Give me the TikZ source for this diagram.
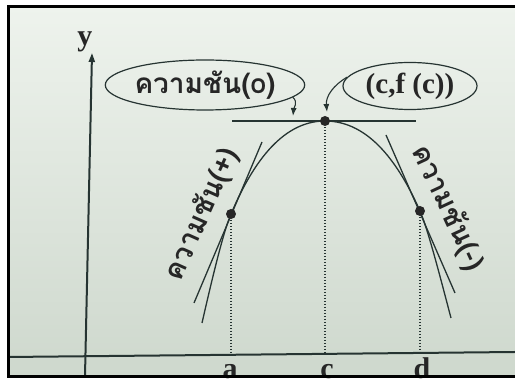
\documentclass[tikz,border=0pt]{standalone}
\usepackage{fontspec}
\setmainfont{Liberation Serif}
\newfontfamily\thaifont[Script=Thai]{Loma}
\usetikzlibrary{arrows.meta,shapes.geometric}
\definecolor{ink}{RGB}{38,52,50}
\definecolor{papertop}{RGB}{238,243,237}
\definecolor{paperbot}{RGB}{206,216,205}
\tikzset{tg/.style={ellipse,draw=ink,line width=1.2pt,inner sep=0pt},
 th/.style={font=\thaifont\bfseries\fontsize{28}{32}\selectfont,inner sep=0pt,text=black!85},
 lbl/.style={font=\bfseries\fontsize{30}{34}\selectfont,inner sep=0pt,text=black!85},
 pt/.style={circle,fill=black!85,inner sep=0pt,minimum size=10pt},
 crv/.style={draw=ink,line width=1.3pt},
 axis/.style={draw=ink,line width=2pt},
 drop/.style={draw=ink,line width=1.5pt,dash pattern=on 1.5pt off 1.5pt},
 arr/.style={-{Latex[length=8pt,width=6pt]},draw=ink,line width=1.1pt}}

\begin{document}
\begin{tikzpicture}[x=1pt,y=1pt]
\useasboundingbox (0,0) rectangle (515,380);
\fill[white] (0,0) rectangle (515,380);
\shade[top color=papertop,bottom color=paperbot] (8,3) rectangle (520,374);
% points on the curve
\coordinate (a) at (231,166);
\coordinate (c) at (325,259);
\coordinate (d) at (420,169);
% axes
\draw[axis] (8,23) -- (515,28);
\draw[axis,-{Triangle[length=9pt,width=6pt]}] (85,4) -- (92,327);
\node[lbl,anchor=base] (y) at (85,334.5) {y};
% curve
\draw[crv] (202,57) .. controls (210,92) and (223,148) .. (a)
 .. controls (250.5,212) and (280,259) .. (c)
 .. controls (370,259) and (399.7,214.7) .. (d)
 .. controls (428,151) and (442,96) .. (451,62);
% tangents
\draw[crv] (232,259) -- (416,259);
\draw[crv] (194,77) -- (262,238);
\draw[crv] (386,245) -- (455,87);
% drop lines
\draw[drop] (a) -- (231,25);
\draw[drop] (c) -- (325,26);
\draw[drop] (d) -- (420,27);
\node[pt] (pa) at (a) {};
\node[pt] (pc) at (c) {};
\node[pt] (pd) at (d) {};
\node[lbl,anchor=base] (ta) at (230,1) {a};
\node[lbl,anchor=base] (tc) at (327,1) {c};
\node[lbl,anchor=base] (td) at (422,1) {d};
% tags
\node[tg,th,minimum width=190pt,minimum height=50pt] (zero) at (205,295) {ความชัน(o)};
\node[tg,lbl,font=\fontsize{29}{32}\selectfont\bfseries,minimum width=134pt,minimum height=47pt] (fc) at (410,294) {(c,f (c))};
\coordinate (z) at (293,264);
\coordinate (f) at (327,268);
\draw[arr] (zero.-8) to[out=-40,in=85] (z);
\draw[arr] (fc.172) to[out=210,in=95] (f);
% slopes
\node[th,rotate=66] (up) at (202,166) {ความชัน(+)};
\node[th,rotate=-65] (down) at (448,172) {ความชัน(-)};
% frame
\draw[line width=3pt] (8.5,3) rectangle (522,373.5);
\end{tikzpicture}
\end{document}
